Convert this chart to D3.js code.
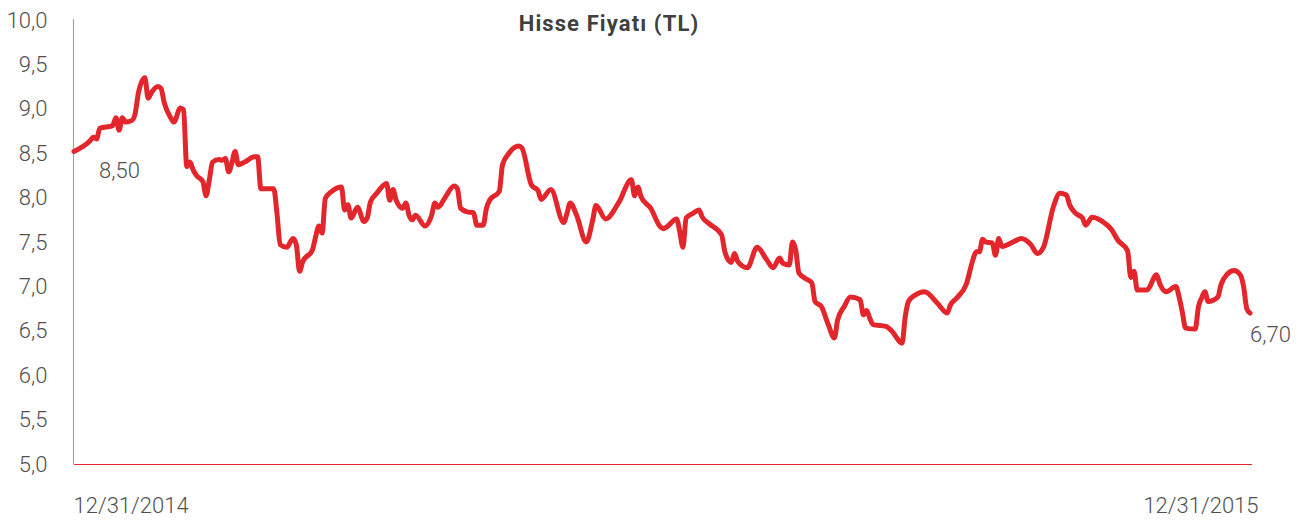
<!DOCTYPE html>
<html>
<head>
<meta charset="utf-8">
<script src="https://cdn.jsdelivr.net/npm/d3@7"></script>
<style>
  html, body { margin: 0; padding: 0; background: #fff; }
  #chart text { font-family: Roboto, "Noto Sans", sans-serif; }
</style>
</head>
<body>
<div id="chart"></div>
<script>
// Hisse Fiyatı (TL) – daily close, 12/31/2014 .. 12/31/2015
// days = offset in days from 12/31/2014
const days = [
  0, 5, 6, 7, 8, 12, 13, 14, 15, 16, 18, 19, 20, 22, 23, 24, 26, 27, 28, 30,
  31, 33, 34, 35, 36, 37, 38, 40, 41, 42, 43, 45, 46, 47, 48, 49, 50, 51, 53, 56,
  57, 58, 62, 63, 64, 66, 68, 69, 70, 71, 74, 75, 76, 77, 78, 80, 83, 84, 85, 86,
  88, 90, 91, 92, 94, 97, 98, 99, 100, 102, 103, 104, 105, 106, 109, 111, 112, 113, 115, 118,
  119, 120, 122, 124, 125, 127, 128, 129, 132, 133, 135, 138, 139, 142, 144, 145, 148, 152, 153, 154,
  156, 159, 161, 162, 165, 169, 173, 174, 175, 176, 179, 182, 183, 184, 187, 188, 189, 190, 192, 194,
  195, 197, 201, 202, 204, 205, 206, 209, 212, 215, 217, 219, 220, 222, 223, 224, 225, 227, 229, 230,
  232, 234, 236, 237, 239, 241, 244, 245, 246, 247, 248, 252, 254, 257, 258, 259, 261, 264, 268, 271,
  272, 274, 277, 279, 280, 281, 282, 283, 285, 286, 287, 288, 292, 294, 297, 299, 301, 304, 306, 308,
  309, 311, 313, 314, 316, 320, 322, 324, 327, 328, 329, 330, 333, 336, 337, 339, 342, 343, 344, 345,
  348, 349, 350, 351, 352, 355, 356, 358, 360, 362, 363, 364, 365
];
const prices = [
  8.52, 8.64, 8.68, 8.66, 8.78, 8.81, 8.90, 8.76, 8.90, 8.85, 8.87, 8.95, 9.18, 9.35, 9.12, 9.18, 9.25, 9.23, 9.07, 8.90,
  8.85, 9.01, 8.99, 8.35, 8.40, 8.31, 8.25, 8.18, 8.02, 8.20, 8.40, 8.43, 8.42, 8.44, 8.29, 8.39, 8.52, 8.37, 8.40, 8.46,
  8.46, 8.10, 8.10, 7.82, 7.47, 7.44, 7.54, 7.47, 7.17, 7.28, 7.41, 7.56, 7.68, 7.60, 7.99, 8.07, 8.12, 7.86, 7.92, 7.77,
  7.89, 7.73, 7.77, 7.95, 8.05, 8.16, 7.97, 8.09, 7.97, 7.88, 7.94, 7.80, 7.75, 7.80, 7.68, 7.80, 7.94, 7.89, 7.99, 8.13,
  8.10, 7.88, 7.84, 7.83, 7.69, 7.69, 7.88, 7.97, 8.07, 8.37, 8.50, 8.58, 8.56, 8.14, 8.08, 7.98, 8.09, 7.72, 7.82, 7.94,
  7.80, 7.50, 7.75, 7.91, 7.76, 7.94, 8.20, 8.02, 8.12, 8.01, 7.88, 7.67, 7.65, 7.67, 7.76, 7.62, 7.44, 7.77, 7.82, 7.86,
  7.78, 7.71, 7.58, 7.39, 7.27, 7.37, 7.28, 7.21, 7.44, 7.30, 7.21, 7.32, 7.26, 7.24, 7.50, 7.41, 7.15, 7.09, 7.04, 6.83,
  6.77, 6.58, 6.42, 6.62, 6.77, 6.88, 6.85, 6.68, 6.73, 6.64, 6.57, 6.55, 6.49, 6.36, 6.66, 6.83, 6.90, 6.94, 6.81, 6.70,
  6.79, 6.87, 7.03, 7.30, 7.39, 7.39, 7.53, 7.50, 7.49, 7.35, 7.54, 7.45, 7.51, 7.54, 7.47, 7.37, 7.45, 7.90, 8.05, 8.03,
  7.92, 7.82, 7.77, 7.69, 7.78, 7.71, 7.64, 7.52, 7.40, 7.10, 7.17, 6.96, 6.96, 7.13, 7.03, 6.94, 7.00, 6.88, 6.71, 6.53,
  6.52, 6.77, 6.87, 6.94, 6.83, 6.88, 7.02, 7.14, 7.18, 7.13, 7.00, 6.75, 6.70
];
const yTicks = [5, 5.5, 6, 6.5, 7, 7.5, 8, 8.5, 9, 9.5, 10];
const startLabel = "8,50";
const endLabel = "6,70";
const title = "Hisse Fiyatı (TL)";

const width = 1307, height = 525;
const startDate = new Date(2014, 11, 31);
const endDate = new Date(2015, 11, 31);

const svg = d3.select("#chart").append("svg")
  .attr("width", width)
  .attr("height", height);

const x = d3.scaleTime().domain([startDate, endDate]).range([74, 1250]);
const y = d3.scaleLinear().domain([5, 10]).range([464, 20]);

const data = days.map((d, i) => ({ date: d3.timeDay.offset(startDate, d), value: prices[i] }));

// y axis
const yAxis = svg.append("g")
  .attr("transform", "translate(73.5,0)")
  .call(d3.axisLeft(y).tickValues(yTicks).tickSize(0).tickPadding(26)
    .tickFormat(d => d3.format(".1f")(d).replace(".", ",")));
yAxis.select(".domain").attr("stroke", "#f07a7c").attr("stroke-width", 1)
  .attr("d", `M0,${y(10) - 1}V${y(5)}`);
yAxis.selectAll("text")
  .attr("fill", "#505050")
  .attr("font-size", 22)
  .attr("font-weight", 300);

// x axis
const xAxis = svg.append("g")
  .attr("transform", `translate(0,${y(5)})`)
  .call(d3.axisBottom(x).tickValues([startDate, endDate]).tickSize(0).tickPadding(33)
    .tickFormat(d3.timeFormat("%m/%d/%Y")));
xAxis.select(".domain").attr("stroke", "#e8262b").attr("stroke-width", 1.2)
  .attr("d", `M${x(startDate)},0.5H1252`);
xAxis.selectAll("text")
  .attr("fill", "#505050")
  .attr("font-size", 22)
  .attr("font-weight", 300)
  .attr("text-anchor", (d, i) => i === 0 ? "start" : "end")
  .attr("dx", (d, i) => i === 0 ? -1 : 8);

// price line
const line = d3.line()
  .x(d => x(d.date))
  .y(d => y(d.value))
  .curve(d3.curveMonotoneX);

svg.append("path")
  .datum(data)
  .attr("fill", "none")
  .attr("stroke", "#e3262b")
  .attr("stroke-width", 5)
  .attr("stroke-linejoin", "round")
  .attr("stroke-linecap", "round")
  .attr("d", line);

// first / last value labels
const first = data[0], last = data[data.length - 1];
svg.append("text")
  .attr("x", x(first.date) + 25)
  .attr("y", y(first.value) + 27)
  .attr("fill", "#505050")
  .attr("font-size", 22)
  .attr("font-weight", 300)
  .text(startLabel);
svg.append("text")
  .attr("x", x(last.date) + 0)
  .attr("y", y(last.value) + 29)
  .attr("fill", "#505050")
  .attr("font-size", 22)
  .attr("font-weight", 300)
  .text(endLabel);

// title
svg.append("text")
  .attr("x", 609)
  .attr("y", 31)
  .attr("text-anchor", "middle")
  .attr("fill", "#404040")
  .attr("font-size", 22)
  .attr("font-weight", "bold")
  .attr("letter-spacing", 1.1)
  .text(title);
</script>
</body>
</html>
